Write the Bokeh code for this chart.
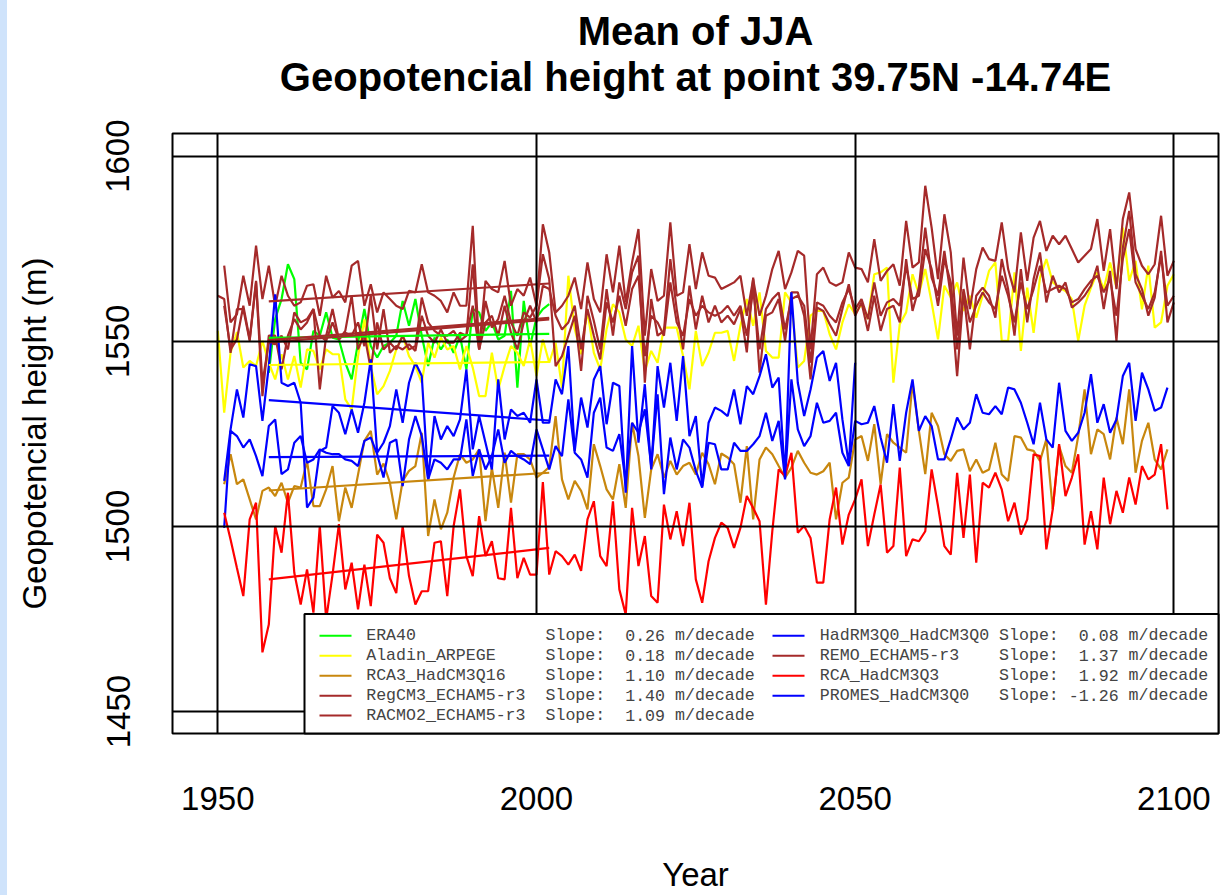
from bokeh.plotting import figure
from bokeh.models import Range1d, FixedTicker, Title, Div
from bokeh.layouts import row
from bokeh.embed import file_html
from bokeh.resources import INLINE
from bokeh.core.properties import value

# ---------------- data ----------------
TITLE_1 = "Mean of JJA"
TITLE_2 = "Geopotencial height at point 39.75N -14.74E"
X_LABEL = "Year"
Y_LABEL = "Geopotencial height (m)"
x_ticks = [1950, 2000, 2050, 2100]
y_ticks = [1450, 1500, 1550, 1600]

models = ["ERA40", "Aladin_ARPEGE", "RCA3_HadCM3Q16", "RegCM3_ECHAM5-r3",
          "RACMO2_ECHAM5-r3", "HadRM3Q0_HadCM3Q0", "REMO_ECHAM5-r3",
          "RCA_HadCM3Q3", "PROMES_HadCM3Q0"]
colors = ["#00ff00", "#ffff00", "#c8870e", "#a52a2a", "#a52a2a",
          "#0000ff", "#a52a2a", "#ff0000", "#0000ff"]
slopes = [0.26, 0.18, 1.10, 1.40, 1.09, 0.08, 1.37, 1.92, -1.26]
start_years = [1958, 1950, 1951, 1950, 1951, 1951, 1951, 1951, 1951]

era40 = [
    1541.5, 1556.0,
    1561.4, 1570.8, 1566.8, 1544.2, 1542.4, 1552.8, 1551.5, 1557.8, 1551.0, 1550.5,
    1544.2, 1539.7, 1549.6, 1558.7, 1548.7, 1545.6, 1548.7, 1549.6, 1551.5, 1560.9,
    1554.2, 1561.4, 1551.5, 1543.3, 1551.0, 1547.8, 1550.5, 1546.9, 1551.5, 1542.4,
    1558.7, 1557.8, 1552.8, 1555.1, 1550.5, 1551.5, 1563.6, 1537.5, 1560.9, 1548.7,
    1556.4, 1558.7, 1560.0]

aladin = [
    1552.8, 1530.7, 1546.9, 1552.5, 1542.9, 1544.7, 1543.3, 1550.1, 1544.2, 1539.7,
    1546.5, 1539.7, 1546.0, 1537.5, 1547.8, 1547.4, 1542.4, 1547.8, 1546.5, 1546.5,
    1534.3, 1531.6, 1546.0, 1555.9, 1543.3, 1535.7, 1537.9, 1542.0, 1547.8, 1551.5,
    1546.0, 1543.3, 1538.8, 1549.6, 1545.6, 1551.0, 1547.8, 1548.7, 1542.4, 1548.7,
    1542.9, 1535.2, 1535.2, 1546.9, 1537.0, 1543.3, 1548.7, 1546.9, 1543.3, 1550.5,
    1540.6, 1550.5, 1544.2, 1549.6, 1537.5, 1567.7, 1553.3, 1546.5, 1558.2, 1546.9,
    1542.4, 1553.3, 1560.0, 1557.8, 1550.5, 1548.7, 1554.2, 1542.0, 1547.4, 1544.2,
    1553.7, 1553.7, 1553.7, 1546.0, 1537.0, 1552.8, 1543.3, 1546.9, 1552.3, 1552.3,
    1552.8, 1544.7, 1554.2, 1561.4, 1554.2, 1563.2, 1547.4, 1545.6, 1545.6, 1563.2,
    1560.5, 1542.9, 1544.7, 1556.9, 1558.2, 1558.2, 1551.9, 1547.8, 1555.1, 1560.0,
    1557.3, 1560.0, 1556.0, 1568.1, 1568.6, 1569.9, 1538.8, 1554.6, 1557.8, 1568.1,
    1562.7, 1569.5, 1560.5, 1550.5, 1565.0, 1561.8, 1565.9, 1558.2, 1562.3, 1556.4,
    1562.3, 1569.0, 1571.3, 1550.1, 1550.1, 1568.6, 1547.4, 1564.5, 1552.3, 1567.2,
    1572.2, 1565.9, 1564.5, 1563.6, 1561.4, 1550.1, 1559.6, 1564.5, 1568.6, 1564.1,
    1571.3, 1564.5, 1580.7, 1566.3, 1571.7, 1558.6, 1570.4, 1553.7, 1555.1, 1565.0,
    1568.1]

rca3 = [
    1511.4, 1519.5, 1511.4, 1512.7, 1507.3, 1501.9, 1509.6, 1510.5, 1508.2,
    1511.8, 1506.4, 1510.9, 1510.5, 1517.7, 1505.5, 1505.5, 1510.0, 1516.3, 1501.4,
    1510.5, 1505.0, 1514.0, 1523.1, 1525.8, 1514.0, 1517.0, 1511.8, 1501.9, 1512.3,
    1515.0, 1516.3, 1525.3, 1497.4, 1507.3, 1499.2, 1503.7, 1513.2, 1519.5, 1517.2,
    1518.1, 1520.8, 1501.4, 1515.9, 1505.0, 1519.9, 1506.4, 1519.5, 1519.5, 1518.1,
    1513.2, 1514.5, 1516.0, 1529.8, 1512.7, 1507.3, 1512.3, 1509.6, 1504.6, 1522.2,
    1516.3, 1510.0, 1507.3, 1516.8, 1505.0, 1528.0, 1519.0, 1502.3, 1515.4, 1519.5,
    1513.2, 1517.7, 1514.0, 1516.3, 1517.2, 1514.0, 1519.9, 1516.8, 1511.4, 1519.7,
    1518.6, 1516.8, 1506.4, 1521.7, 1501.9, 1518.1, 1521.3, 1519.5, 1516.3, 1513.2,
    1515.9, 1520.4, 1517.2, 1514.5, 1514.0, 1514.9, 1517.2, 1501.9, 1511.8, 1513.2,
    1523.5, 1524.4, 1517.7, 1527.6, 1511.4, 1524.9, 1522.6, 1521.3, 1519.9, 1538.8,
    1525.8, 1514.1, 1530.7, 1527.1, 1519.5, 1517.7, 1520.4, 1520.8, 1514.9, 1518.1,
    1514.5, 1515.4, 1522.6, 1514.0, 1512.3, 1524.4, 1524.0, 1520.8, 1520.4, 1517.7,
    1523.5, 1504.6, 1521.7, 1516.3, 1514.5, 1524.4, 1537.0, 1519.5, 1526.2, 1524.9,
    1518.1, 1529.4, 1522.2, 1537.0, 1514.5, 1523.1, 1528.0, 1518.1, 1515.4, 1520.8]

regcm3 = [
    1562.3, 1561.4, 1546.9, 1558.7, 1558.7, 1550.1, 1565.9, 1535.2, 1551.5, 1551.5,
    1542.4, 1551.5, 1556.0, 1553.2, 1555.1, 1558.7, 1537.0, 1551.5, 1558.7, 1550.5,
    1552.8, 1562.3, 1547.8, 1551.9, 1542.4, 1555.1, 1547.8, 1549.6, 1547.8, 1551.5,
    1547.8, 1548.7, 1561.8, 1555.1, 1552.8, 1551.5, 1551.5, 1552.8, 1550.1, 1551.5,
    1570.8, 1547.8, 1560.9, 1553.7, 1556.0, 1562.3, 1555.1, 1551.5, 1557.8, 1556.4,
    1559.6, 1573.5, 1566.8, 1543.3, 1546.0, 1551.5, 1556.9, 1542.0, 1562.3, 1555.5,
    1547.8, 1564.1, 1551.5, 1565.9, 1558.7, 1568.6, 1573.1, 1538.8, 1561.4, 1551.5,
    1552.8, 1572.2, 1558.7, 1547.8, 1565.0, 1553.2, 1562.3, 1555.1, 1559.6, 1555.1,
    1556.9, 1554.6, 1558.7, 1547.0, 1567.2, 1541.5, 1556.9, 1557.8, 1561.4, 1550.1,
    1563.2, 1563.2, 1556.9, 1539.7, 1559.1, 1558.2, 1554.6, 1551.5, 1558.7, 1565.4,
    1556.9, 1560.5, 1552.8, 1562.3, 1552.8, 1558.7, 1559.6, 1555.1, 1572.2, 1558.2,
    1564.5, 1580.7, 1567.2, 1562.3, 1574.4, 1562.3, 1540.6, 1563.2, 1547.8, 1562.3,
    1564.5, 1562.3, 1556.4, 1572.2, 1564.1, 1551.5, 1569.5, 1555.1, 1566.8, 1574.0,
    1560.5, 1567.7, 1563.2, 1565.9, 1559.1, 1560.5, 1562.3, 1565.0, 1570.4, 1558.7,
    1569.0, 1550.1, 1575.3, 1585.2, 1568.1, 1564.1, 1556.9, 1561.8, 1574.4, 1555.1,
    1560.5]

racmo2 = [
    1570.4, 1555.1, 1557.3, 1567.7, 1559.6, 1575.8, 1561.4, 1570.4, 1559.6,
    1567.7, 1562.3, 1559.6, 1560.5, 1565.0, 1565.4, 1556.9, 1567.7, 1561.8, 1563.6,
    1560.5, 1570.4, 1571.7, 1559.6, 1565.4, 1557.8, 1563.2, 1561.4, 1559.6, 1558.7,
    1563.6, 1563.2, 1570.8, 1563.2, 1562.3, 1560.9, 1557.8, 1563.2, 1559.6, 1559.6,
    1581.2, 1547.8, 1566.3, 1564.1, 1563.2, 1571.7, 1559.6, 1564.1, 1562.3, 1567.2,
    1559.6, 1581.6, 1574.0, 1557.8, 1559.6, 1562.3, 1567.2, 1558.7, 1571.3, 1561.4,
    1557.8, 1573.5, 1563.2, 1575.8, 1560.5, 1571.3, 1580.3, 1551.5, 1569.5, 1560.9,
    1562.3, 1582.1, 1562.3, 1563.2, 1576.2, 1564.1, 1574.0, 1567.7, 1567.2, 1564.1,
    1565.0, 1565.9, 1567.7, 1556.9, 1566.8, 1556.9, 1562.3, 1569.5, 1574.4, 1564.1,
    1568.6, 1574.4, 1573.1, 1547.8, 1568.1, 1569.9, 1565.9, 1565.0, 1565.9, 1574.0,
    1569.9, 1569.5, 1565.9, 1577.6, 1566.3, 1569.0, 1570.8, 1565.0, 1582.5, 1569.9,
    1571.3, 1592.0, 1580.7, 1566.8, 1584.3, 1574.0, 1551.5, 1572.6, 1558.7, 1569.5,
    1575.3, 1572.2, 1571.7, 1582.1, 1569.5, 1563.2, 1579.4, 1566.3, 1578.0, 1582.5,
    1574.4, 1578.5, 1576.2, 1578.5, 1574.9, 1571.3, 1573.1, 1574.9, 1583.0, 1569.0,
    1580.3, 1564.1, 1583.0, 1590.2, 1574.9, 1570.4, 1568.1, 1570.8, 1583.9, 1567.7,
    1571.7]

hadrm3 = [
    1499.6, 1525.8, 1524.4, 1521.3, 1523.5, 1519.0, 1513.6, 1527.1, 1528.9,
    1514.1, 1515.4, 1522.6, 1524.4, 1517.2, 1518.1, 1520.8, 1519.9, 1519.5, 1519.5,
    1518.1, 1517.7, 1516.3, 1523.1, 1524.0, 1519.5, 1513.2, 1522.6, 1523.5, 1510.9,
    1523.5, 1529.8, 1524.4, 1512.7, 1518.1, 1517.2, 1515.4, 1518.1, 1518.1, 1528.9,
    1513.6, 1520.8, 1515.4, 1519.0, 1526.2, 1517.2, 1520.4, 1519.0, 1518.1, 1516.8,
    1526.2, 1520.8, 1515.4, 1521.7, 1519.0, 1534.3, 1519.9, 1518.1, 1513.2, 1530.7,
    1534.8, 1521.3, 1520.4, 1524.9, 1511.8, 1528.0, 1525.3, 1531.6, 1516.3, 1535.7,
    1508.7, 1524.0, 1515.4, 1523.5, 1521.3, 1515.0, 1510.5, 1522.6, 1522.2, 1515.4,
    1515.4, 1522.6, 1520.4, 1520.4, 1522.2, 1524.4, 1530.7, 1523.1, 1528.5, 1512.7,
    1539.7, 1526.2, 1521.7, 1524.4, 1533.4, 1528.0, 1528.5, 1530.7, 1519.9, 1516.3,
    1528.5, 1527.6, 1528.0, 1532.5, 1524.0, 1517.2, 1533.0, 1517.7, 1530.7, 1539.7,
    1525.8, 1529.8, 1527.1, 1518.1, 1518.1, 1523.5, 1529.4, 1526.2, 1528.0, 1535.7,
    1530.7, 1530.3, 1532.5, 1530.3, 1537.5, 1537.0, 1533.4, 1528.0, 1522.2, 1533.4,
    1523.5, 1521.3, 1538.8, 1525.8, 1523.1, 1525.3, 1530.7, 1541.1, 1528.0, 1533.0,
    1525.3, 1528.9, 1540.6, 1544.2, 1528.5, 1541.5, 1537.0, 1531.2, 1532.1, 1537.5]

remo = [
    1559.6, 1547.8, 1550.5, 1559.6, 1550.5, 1566.3, 1538.8, 1549.6, 1549.2,
    1551.5, 1547.8, 1557.8, 1555.1, 1556.0, 1558.7, 1551.5, 1550.1, 1555.1, 1550.5,
    1552.3, 1551.5, 1555.1, 1548.7, 1562.3, 1547.8, 1558.7, 1546.9, 1548.7, 1547.8,
    1549.2, 1547.4, 1556.9, 1551.5, 1549.6, 1553.2, 1549.6, 1549.6, 1552.3, 1551.5,
    1559.6, 1547.8, 1555.1, 1556.9, 1551.5, 1559.6, 1552.3, 1547.8, 1555.1, 1559.6,
    1555.1, 1565.0, 1564.1, 1556.9, 1553.2, 1555.1, 1559.6, 1547.8, 1558.7, 1551.5,
    1545.1, 1560.5, 1555.1, 1562.3, 1554.2, 1564.1, 1567.7, 1546.0, 1556.9, 1555.1,
    1551.5, 1565.9, 1555.1, 1551.5, 1561.4, 1556.9, 1559.6, 1557.8, 1556.9, 1557.8,
    1559.6, 1556.9, 1559.6, 1551.5, 1564.1, 1547.8, 1558.7, 1561.4, 1563.2, 1553.2,
    1561.4, 1562.3, 1559.6, 1544.2, 1560.5, 1559.6, 1556.9, 1555.1, 1560.5, 1564.1,
    1558.7, 1561.4, 1556.0, 1565.9, 1556.9, 1560.5, 1561.4, 1559.6, 1570.4, 1561.4,
    1562.3, 1574.9, 1569.5, 1559.6, 1572.2, 1565.9, 1547.8, 1564.1, 1555.1, 1559.6,
    1563.2, 1560.5, 1558.7, 1567.7, 1562.3, 1555.1, 1565.9, 1558.7, 1564.1, 1570.4,
    1563.2, 1564.1, 1565.0, 1564.1, 1560.5, 1561.4, 1564.1, 1566.3, 1567.7, 1563.2,
    1566.8, 1556.9, 1572.2, 1580.3, 1565.9, 1562.3, 1558.7, 1563.2, 1573.1, 1559.6,
    1562.3]

rca = [
    1503.7, 1496.5, 1488.8, 1481.2, 1501.9, 1506.4, 1466.0, 1473.5, 1500.1,
    1492.9, 1509.1, 1487.5, 1478.9, 1488.4, 1476.7, 1500.1, 1474.9, 1487.0, 1500.6,
    1483.0, 1490.2, 1477.6, 1489.7, 1478.5, 1497.8, 1495.6, 1486.0, 1482.0, 1500.1,
    1486.6, 1478.9, 1482.5, 1482.5, 1495.6, 1496.0, 1481.2, 1500.1, 1510.0, 1492.0,
    1486.6, 1502.8, 1492.0, 1496.0, 1486.0, 1485.7, 1505.0, 1486.0, 1491.5, 1487.0,
    1487.0, 1512.0, 1487.0, 1493.3, 1492.0, 1489.7, 1492.4, 1488.0, 1501.9, 1506.8,
    1492.0, 1489.3, 1506.8, 1483.0, 1476.2, 1505.0, 1489.3, 1497.4, 1481.2, 1479.4,
    1505.9, 1496.5, 1504.1, 1494.7, 1506.4, 1485.7, 1479.4, 1490.6, 1496.9, 1501.0,
    1499.6, 1494.2, 1499.6, 1508.2, 1505.0, 1501.4, 1478.9, 1498.7, 1515.4, 1513.6,
    1519.9, 1498.3, 1500.1, 1496.9, 1484.8, 1484.8, 1501.9, 1510.5, 1495.1, 1503.2,
    1507.3, 1512.7, 1494.7, 1503.2, 1511.3, 1492.9, 1494.7, 1515.9, 1492.0, 1496.5,
    1496.0, 1498.7, 1515.4, 1505.5, 1494.7, 1492.4, 1514.5, 1496.9, 1514.0, 1490.2,
    1511.8, 1510.5, 1514.5, 1510.0, 1501.4, 1506.4, 1497.8, 1501.9, 1519.5, 1519.0,
    1493.8, 1504.6, 1522.2, 1508.2, 1513.2, 1519.5, 1495.1, 1504.1, 1493.8, 1513.2,
    1500.6, 1509.6, 1503.7, 1513.2, 1505.9, 1516.3, 1512.7, 1514.0, 1522.2, 1504.6]

promes = [
    1512.3, 1526.2, 1537.0, 1529.4, 1543.8, 1543.3, 1528.5, 1543.3, 1562.7,
    1538.8, 1537.9, 1538.8, 1533.4, 1505.1, 1507.8, 1520.4, 1521.3, 1532.5, 1530.7,
    1524.9, 1531.6, 1525.3, 1533.4, 1545.1, 1519.9, 1522.6, 1527.1, 1537.0, 1528.0,
    1538.8, 1544.2, 1540.6, 1512.7, 1529.8, 1523.5, 1527.1, 1524.4, 1528.9, 1542.4,
    1520.8, 1529.8, 1522.6, 1515.4, 1539.7, 1523.5, 1531.6, 1529.8, 1530.7, 1528.0,
    1539.7, 1528.0, 1528.0, 1539.7, 1535.7, 1548.7, 1520.4, 1534.8, 1526.7, 1539.7,
    1543.3, 1527.6, 1538.8, 1537.9, 1509.1, 1548.7, 1522.6, 1538.4, 1515.4, 1543.3,
    1532.1, 1544.2, 1528.5, 1546.0, 1524.4, 1529.8, 1510.9, 1528.0, 1532.1, 1531.2,
    1529.8, 1537.0, 1527.6, 1537.9, 1535.7, 1540.6, 1546.5, 1537.5, 1540.2, 1513.2,
    1563.2, 1538.8, 1529.8, 1537.0, 1545.6, 1547.4, 1539.3, 1544.2, 1528.9, 1516.8,
    1544.2]

series = [era40, aladin, rca3, regcm3, racmo2, hadrm3, remo, rca, promes]

# linear-trend segments over the ERA40 period, end values
trend_years = [1958, 2002]
trend_start = [1550.9, 1543.6, 1509.7, 1549.7, 1560.8, 1518.7, 1550.3, 1485.7, 1534.1]
trend_end = [1552.0, 1544.4, 1514.5, 1555.9, 1565.6, 1519.1, 1556.3, 1494.2, 1528.6]

# ---------------- layout geometry (pixels of the page) ----------------
X0, X1 = 1942.89, 2107.01
Y0, Y1 = 1444.08, 1606.11
FRAME_L, FRAME_T, FRAME_W, FRAME_H = 172, 133, 1046, 602
STRIP_W = 7
SX = FRAME_W / (X1 - X0)
SY = FRAME_H / (Y1 - Y0)


def xd(px):
    return X0 + (px - FRAME_L) / SX


def yd(py):
    return Y1 - (py - FRAME_T) / SY


FONT = "Liberation Sans"
MONO = "Liberation Mono"
LW = 2.2

p = figure(width=1230 - STRIP_W, height=895,
           x_range=Range1d(X0, X1), y_range=Range1d(Y0, Y1),
           output_backend="svg", toolbar_location=None,
           min_border_left=FRAME_L - STRIP_W,
           min_border_right=1230 - (FRAME_L + FRAME_W),
           min_border_top=FRAME_T, min_border_bottom=895 - FRAME_T - FRAME_H)
p.background_fill_color = "white"
p.border_fill_color = "white"
p.outline_line_color = "black"
p.outline_line_width = 2

# titles: outermost = p.title, then line 2, then an empty spacer next to the frame
p.title = Title(text=TITLE_1, align="center", text_font=FONT, text_font_size="40px",
                text_font_style="bold", text_color="black", standoff=0)
p.add_layout(Title(text=" ", text_font=FONT, text_font_size="28.8px", standoff=0), "above")
p.add_layout(Title(text=TITLE_2, align="center", text_font=FONT, text_font_size="40px",
                   text_font_style="bold", text_color="black", standoff=1), "above")

# grid lines (black, on top of the data as in the reference)
p.xgrid.ticker = FixedTicker(ticks=x_ticks)
p.ygrid.ticker = FixedTicker(ticks=y_ticks)
for g in (p.xgrid[0], p.ygrid[0]):
    g.grid_line_color = "black"
    g.grid_line_width = 2
    g.level = "guide"

# axes: labels only
p.xaxis.ticker = FixedTicker(ticks=x_ticks)
p.yaxis.ticker = FixedTicker(ticks=y_ticks)
for ax in (p.xaxis[0], p.yaxis[0]):
    ax.axis_line_color = None
    ax.major_tick_line_color = None
    ax.minor_tick_line_color = None
    ax.major_tick_out = 0
    ax.major_tick_in = 0
    ax.minor_tick_out = 0
    ax.minor_tick_in = 0
    ax.major_label_text_font = FONT
    ax.major_label_text_font_size = "33px"
    ax.major_label_text_color = "black"
    ax.axis_label_text_font = FONT
    ax.axis_label_text_font_size = "33px"
    ax.axis_label_text_font_style = "normal"
    ax.axis_label_text_color = "black"
p.xaxis.axis_label = X_LABEL
p.yaxis.axis_label = Y_LABEL
p.xaxis.major_label_standoff = 53
p.xaxis.axis_label_standoff = 43
p.yaxis.major_label_orientation = "vertical"
p.yaxis.major_label_standoff = 43
p.yaxis.axis_label_standoff = 51

# series
for vals, col, y0 in zip(series, colors, start_years):
    yrs = list(range(y0, y0 + len(vals)))
    p.line(yrs, vals, line_color=col, line_width=LW)

# trend lines
for col, a, b in zip(colors, trend_start, trend_end):
    p.line(trend_years, [a, b], line_color=col, line_width=LW)

# legend (drawn by hand, two columns)
LEG_L, LEG_T = 304, 615
p.quad(left=[xd(LEG_L)], right=[X1], top=[yd(LEG_T)], bottom=[Y0],
       fill_color="white", line_color="black", line_width=2, level="overlay")
CW = 9.96
col_name_x = [365.7, 819.3]
col_line_x = [(319, 351), (772, 804)]
row_y0, row_dy = 637.0, 20.0
n_first = 5
for i, (name, col, s) in enumerate(zip(models, colors, slopes)):
    c = 0 if i < n_first else 1
    r = i if i < n_first else i - n_first
    yy = yd(row_y0 + r * row_dy)
    p.segment(x0=[xd(col_line_x[c][0])], x1=[xd(col_line_x[c][1])], y0=[yy], y1=[yy],
              line_color=col, line_width=2, level="overlay")
    nx = col_name_x[c]
    for txt, px, al in ((name, nx, "left"), ("Slope:", nx + 18 * CW, "left"),
                        (f"{s:.2f}", nx + 30 * CW, "right"),
                        ("m/decade", nx + 31 * CW, "left")):
        p.text(x=[xd(px)], y=[yy], text=[txt], text_font=value(MONO),
               text_font_size=value("16.6px"), text_baseline="middle",
               text_align=al, text_color="#444444", level="overlay")

strip = Div(text="", width=STRIP_W, height=895, margin=(0, 0, 0, 0),
            styles={"background-color": "#cfe3fb"})
layout = row(strip, p, spacing=0)

open("out.html", "w").write(file_html(layout, INLINE))
